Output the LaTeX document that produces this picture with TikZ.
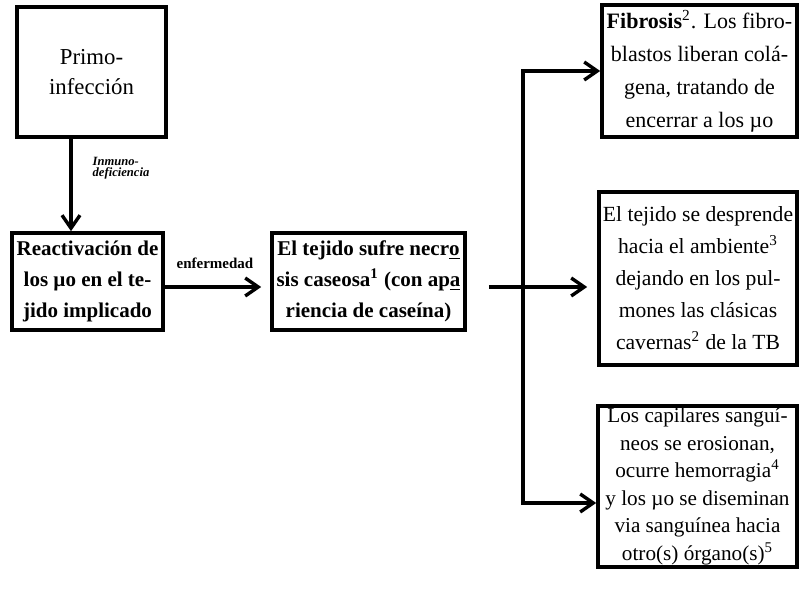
\documentclass[tikz,border=0pt]{standalone}
\usepackage{fontspec}
\setmainfont{Liberation Serif}
\usetikzlibrary{arrows.meta}

\begin{document}
\begin{tikzpicture}[x=0.5pt, y=-0.5pt,
    box/.style={draw, line width=1.8pt, inner sep=1pt, align=center},
    plain/.style={font=\fontsize{11}{16.5}\selectfont},
    heavy/.style={font=\fontsize{10.5}{15.5}\selectfont\bfseries},
    flow/.style={line width=1.7pt, line join=miter,
      -{Straight Barb[length=6.5pt, width=9pt, line width=1.7pt]}}]
    \useasboundingbox (0,0) rectangle (800,597);

    \node[box, minimum width=74.5pt, minimum height=65pt,
      font=\fontsize{11.4}{15}\selectfont] (primo) at (91.5,72) {Primo-\\infección};
    \node[box, heavy, minimum width=75.5pt, minimum height=48.5pt] (react) at (87.5,281.5)
      {Reactivación de\\los µo en el te-\\jido implicado};
    \node[box, heavy, minimum width=96.5pt, minimum height=48.5pt] (necro) at (368.5,281.5)
      {El tejido sufre necr\underline{o}\\sis caseosa\textsuperscript{1} (con ap\underline{a}\\riencia de caseína)};

    \node[box, plain, minimum width=97.5pt, minimum height=66pt] (fibro) at (699.5,71)
      {\textbf{Fibrosis}\textsuperscript{2}. Los fibro-\\blastos liberan colá-\\gena, tratando de\\encerrar a los µo};
    \node[box, font=\fontsize{10.8}{16}\selectfont, minimum width=99pt, minimum height=86.5pt] (cavern) at (698,278.5)
      {El tejido se desprende\\hacia el ambiente\textsuperscript{3}\\dejando en los pul-\\mones las clásicas\\cavernas\textsuperscript{2} de la TB};
    \node[box, font=\fontsize{10.6}{13.8}\selectfont, minimum width=99.5pt, minimum height=78.5pt] (capil) at (697.5,486.5)
      {Los capilares sanguí-\\neos se erosionan,\\ocurre hemorragia\textsuperscript{4}\\y los µo se diseminan\\via sanguínea hacia\\otro(s) órgano(s)\textsuperscript{5}};

    % labels on the arrows
    \node[align=left, inner sep=0pt, font=\fontsize{6.3}{5.5}\selectfont\bfseries\itshape] (inmuno) at (121,168)
      {Inmuno-\\deficiencia};
    \node[inner sep=0pt, font=\fontsize{7.5}{9}\selectfont\bfseries] (enferm) at (215,263) {enfermedad};

    \coordinate (fork) at (523,287);
    \coordinate (forkbot) at (523,503);

    \draw[flow] ([xshift=-10.25pt]primo.south) -- ([xshift=-10.25pt]primo.south |- react.north);
    \draw[flow, shorten >=4.5pt] (react.east |- fork) -- (necro.west |- fork);
    \draw[flow, shorten <=11pt, shorten >=5pt] (necro.east |- fork) -- (cavern.west |- fork);
    \draw[flow] (forkbot) -- (fork |- fibro.west) -- (fibro.west);
    \draw[flow] (fork |- fibro.west) -- (forkbot) -- (capil.west |- forkbot);
\end{tikzpicture}
\end{document}
